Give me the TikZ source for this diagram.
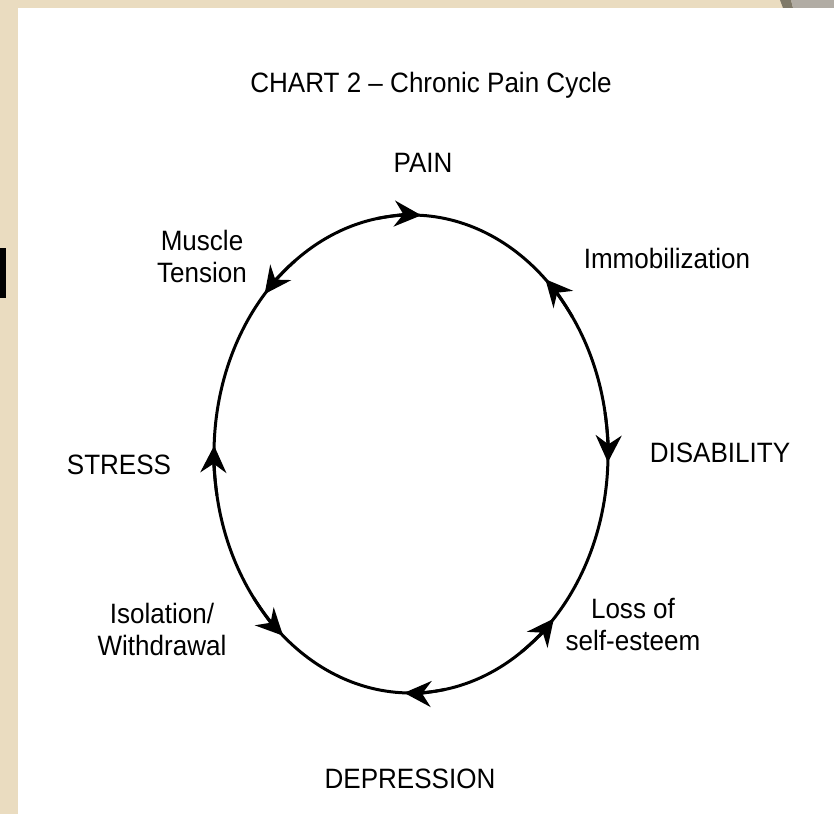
\documentclass[tikz,border=0pt]{standalone}
\usepackage{fontspec}
\newfontfamily\labfont[FakeStretch=0.93,Ligatures=TeX]{Liberation Sans}
\usetikzlibrary{arrows.meta,calc}
\definecolor{beige}{HTML}{EADCC0}
\definecolor{cornergray}{HTML}{B1ACA4}
\definecolor{cornerdark}{HTML}{7F7968}
\tikzset{
  lab/.style={font=\labfont\fontsize{28}{32}\selectfont, align=center, inner sep=0pt, text=black},
  ring/.style={line width=3pt, draw=black},
  cyc/.style={ring, -{Stealth[length=27pt, width=26pt, inset=9pt]}}
}
\newcommand{\cycarrow}[2]{%
  \draw[cyc] ($(c)+({197*cos(#1)},{239*sin(#1)})$) arc[start angle=#1, end angle=#2, x radius=197pt, y radius=239pt];}
\begin{document}
\begin{tikzpicture}[x=1pt,y=1pt]
  % background
  \fill[beige] (0,0) rectangle (834,814);
  \fill[white] (18,0) rectangle (834,806);
  \fill[black] (0,516) rectangle (6,566);
  \fill[cornerdark] (780,814) -- (791,814) -- (793,806) -- (783,806) -- cycle;
  \fill[cornergray] (791,814) -- (834,814) -- (834,806) -- (793,806) -- cycle;
  \useasboundingbox (0,0) rectangle (834,814);

  % cycle
  \coordinate (c) at (411,360);
  \draw[ring] (c) ellipse [x radius=197pt, y radius=239pt];
  \cycarrow{100}{87}
  \cycarrow{35}{47}
  \cycarrow{10}{-2}
  \cycarrow{-56}{-43.5}
  \cycarrow{-80}{-92}
  \cycarrow{-143}{-130.5}
  \cycarrow{190}{178}
  \cycarrow{126}{138}

  % labels
  \node[lab] (title) at (431,729) {CHART 2 – Chronic Pain Cycle};
  \node[lab] (pain) at (423,651) {PAIN};
  \node[lab] (muscle) at (202,558) {Muscle\\Tension};
  \node[lab] (immob) at (667,556) {Immobilization};
  \node[lab] (disab) at (720,361) {DISABILITY};
  \node[lab] (stress) at (119,349) {STRESS};
  \node[lab] (isol) at (162,185) {Isolation/\\Withdrawal};
  \node[lab] (loss) at (633,189) {Loss of\\self-esteem};
  \node[lab] (depr) at (410,35) {DEPRESSION};
\end{tikzpicture}
\end{document}
